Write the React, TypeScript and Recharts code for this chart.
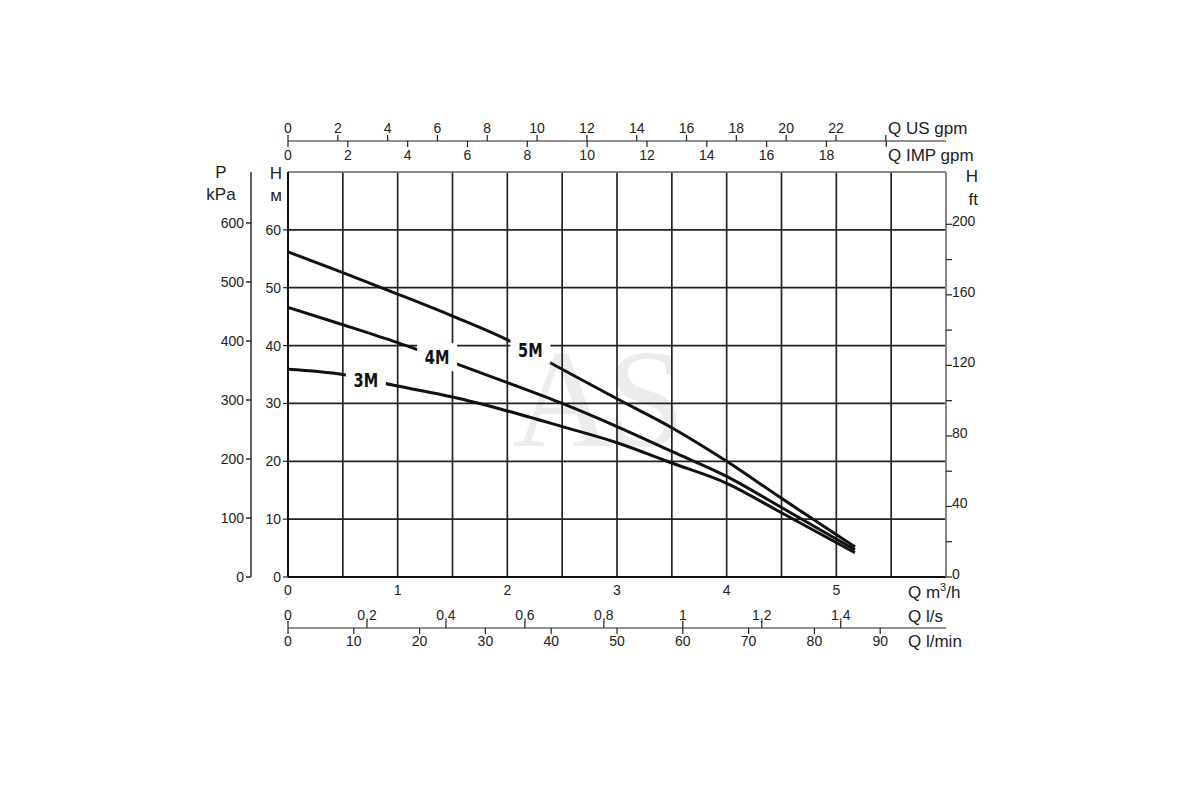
import { LineChart, Line, XAxis, YAxis, CartesianGrid, ReferenceDot } from 'recharts';

// flow in m3/h and head in m for each pump model
const flow = [0, 0.5, 1, 1.5, 2, 2.5, 3, 3.5, 4, 4.5, 5.17];
const head5M = [56.2, 52.6, 48.9, 45.1, 41.0, 35.9, 30.8, 25.8, 20.0, 13.6, 5.2];
const head4M = [46.6, 43.6, 40.5, 37.1, 33.6, 30.0, 26.0, 21.7, 17.4, 12.0, 4.7];
const head3M = [35.9, 35.0, 33.0, 31.1, 28.7, 26.0, 23.2, 19.7, 16.2, 11.1, 4.2];

const curveNames = ['5M', '4M', '3M'];
const curveLabelQ = [2.21, 1.36, 0.71];
const curveLabelH = [39.3, 38.0, 34.0];

const m3hTicks = [0, 0.5, 1, 1.5, 2, 2.5, 3, 3.5, 4, 4.5, 5, 5.5];
const mTicks = [0, 10, 20, 30, 40, 50, 60];
const kPaTicks = [0, 100, 200, 300, 400, 500, 600];
const ftTicks = [0, 20, 40, 60, 80, 100, 120, 140, 160, 180, 200];
const usGpmTicks = [0, 2, 4, 6, 8, 10, 12, 14, 16, 18, 20, 22, 24];
const impGpmTicks = [0, 2, 4, 6, 8, 10, 12, 14, 16, 18, 20];
const lpsTicks = [0, 0.2, 0.4, 0.6, 0.8, 1, 1.2, 1.4];
const lpmTicks = [0, 10, 20, 30, 40, 50, 60, 70, 80, 90];

// unit conversions from m3/h and m
const US_GPM = 4.40287;
const IMP_GPM = 3.66615;
const LPS = 1 / 3.6;
const LPM = 1000 / 60;
const KPA = 9.80665;
const FT = 3.28084;

const Q_MAX = 6;
const H_MAX = 70;

const data = flow.map((q, i) => ({ q, m5: head5M[i], m4: head4M[i], m3: head3M[i] }));

const font = '"Liberation Sans", Arial, sans-serif';
const ink = '#222';
const tickStyle = { fill: ink, fontSize: 14, fontFamily: font };
const comma = (v: number) => String(v).replace('.', ',');

// IMP gpm: ticks hang down from the shared top line, labels below it
const ImpTick = (props: any) => {
  const { x, y, payload } = props;
  const v = Math.round(payload.value * IMP_GPM);
  return (
    <g>
      <line x1={x} x2={x} y1={y - 31} y2={y - 25} stroke={ink} strokeWidth={1.2} />
      {v <= 18 && (
        <text x={x} y={y - 12} textAnchor="middle" fill={ink} fontSize={14} fontFamily={font}>
          {v}
        </text>
      )}
    </g>
  );
};

// l/s: ticks rise from the shared bottom line, labels above it
const LpsTick = (props: any) => {
  const { x, y, payload } = props;
  const v = Math.round(payload.value * LPS * 10) / 10;
  return (
    <g>
      <line x1={x} x2={x} y1={y + 23} y2={y + 16} stroke={ink} strokeWidth={1.2} />
      <text x={x} y={y + 15} textAnchor="middle" fill={ink} fontSize={14} fontFamily={font}>
        {comma(v)}
      </text>
    </g>
  );
};

const CurveTag = (props: any) => {
  const { cx, cy, name } = props;
  return (
    <g>
      <rect x={cx - 20} y={cy - 14} width={40} height={28} fill="#fff" />
      <text
        x={cx}
        y={cy + 7}
        textAnchor="middle"
        fill="#111"
        fontSize={19}
        fontWeight="bold"
        fontFamily='"DejaVu Sans Condensed", "Liberation Sans Narrow", sans-serif'
        transform={`translate(${cx} ${cy}) scale(0.85 1) translate(${-cx} ${-cy})`}
      >
        {name}
      </text>
    </g>
  );
};

const titleStyle = { fill: ink, fontSize: 17, fontFamily: font };

export default function App() {
  return (
    <div style={{ position: 'absolute', left: 0, top: 0, width: 1200, height: 800, background: '#fff' }}>
      <div
        style={{
          position: 'absolute',
          left: 512,
          top: 318,
          fontSize: 140,
          fontFamily: '"Liberation Serif", serif',
          color: '#ececec',
          letterSpacing: -6,
        }}
      >
        AS
      </div>
      <div style={{ position: 'absolute', left: 0, top: 0 }}>
        <LineChart width={1200} height={800} data={data} margin={{ top: 91, right: 204, bottom: 142, left: 191 }}>
          <CartesianGrid xAxisId="b1_m3h" yAxisId="l1_m" stroke={ink} strokeWidth={1.7} strokeOpacity={1} />
          <XAxis
            xAxisId="b1_m3h"
            dataKey="q"
            type="number"
            orientation="bottom"
            domain={[0, Q_MAX]}
            ticks={m3hTicks}
            interval={0}
            tickFormatter={(v: number) => (Number.isInteger(v) ? String(v) : '')}
            height={28}
            tickLine={false}
            axisLine={{ stroke: '#111', strokeWidth: 2.2 }}
            tick={tickStyle}
          />
          <XAxis
            xAxisId="b2_lps"
            dataKey="q"
            type="number"
            orientation="bottom"
            domain={[0, Q_MAX]}
            allowDataOverflow
            ticks={lpsTicks.map((v) => v / LPS)}
            interval={0}
            height={23}
            tickSize={0}
            tickMargin={0}
            tickLine={false}
            axisLine={false}
            tick={<LpsTick />}
          />
          <XAxis
            xAxisId="b3_lpm"
            dataKey="q"
            type="number"
            orientation="bottom"
            domain={[0, Q_MAX]}
            allowDataOverflow
            ticks={lpmTicks.map((v) => v / LPM)}
            interval={0}
            tickFormatter={(v: number) => String(Math.round(v * LPM))}
            height={30}
            tickSize={6}
            axisLine={{ stroke: ink, strokeWidth: 1.2 }}
            tickLine={{ stroke: ink, strokeWidth: 1.2 }}
            tick={tickStyle}
          />
          <XAxis
            xAxisId="t1_imp"
            dataKey="q"
            type="number"
            orientation="top"
            domain={[0, Q_MAX]}
            allowDataOverflow
            ticks={impGpmTicks.map((v) => v / IMP_GPM)}
            interval={0}
            height={31}
            tickSize={0}
            tickMargin={0}
            tickLine={false}
            axisLine={{ stroke: '#999', strokeWidth: 1.6 }}
            tick={<ImpTick />}
          />
          <XAxis
            xAxisId="t2_us"
            dataKey="q"
            type="number"
            orientation="top"
            domain={[0, Q_MAX]}
            allowDataOverflow
            ticks={usGpmTicks.map((v) => v / US_GPM)}
            interval={0}
            tickFormatter={(v: number) => {
              const g = Math.round(v * US_GPM);
              return g <= 22 ? String(g) : '';
            }}
            height={50}
            tickSize={6}
            axisLine={{ stroke: ink, strokeWidth: 1.2 }}
            tickLine={{ stroke: ink, strokeWidth: 1.2 }}
            tick={tickStyle}
          />
          <YAxis
            yAxisId="l1_m"
            type="number"
            orientation="left"
            domain={[0, H_MAX]}
            ticks={mTicks}
            interval={0}
            width={37}
            tickSize={5}
            tickMargin={2}
            axisLine={{ stroke: '#111', strokeWidth: 2 }}
            tickLine={{ stroke: ink, strokeWidth: 1.2 }}
            tick={tickStyle}
          />
          <YAxis
            yAxisId="l2_kpa"
            type="number"
            orientation="left"
            domain={[0, H_MAX * KPA]}
            allowDataOverflow
            ticks={kPaTicks}
            interval={0}
            width={60}
            tickSize={5}
            tickMargin={2}
            axisLine={{ stroke: ink, strokeWidth: 1.4 }}
            tickLine={{ stroke: ink, strokeWidth: 1.4 }}
            tick={tickStyle}
          />
          <YAxis
            yAxisId="r1_ft"
            type="number"
            orientation="right"
            domain={[0, H_MAX * FT]}
            allowDataOverflow
            ticks={ftTicks}
            interval={0}
            tickFormatter={(v: number) => (v % 40 === 0 ? String(v) : '')}
            width={50}
            tickSize={6}
            tickMargin={0}
            axisLine={{ stroke: '#999', strokeWidth: 1.6 }}
            tickLine={{ stroke: ink, strokeWidth: 1.2 }}
            tick={{ ...tickStyle, textAnchor: 'start', dy: -3 }}
          />
          <Line xAxisId="b1_m3h" yAxisId="l1_m" dataKey="m5" type="monotone" stroke="#111" strokeWidth={3} dot={false} isAnimationActive={false} />
          <Line xAxisId="b1_m3h" yAxisId="l1_m" dataKey="m4" type="monotone" stroke="#111" strokeWidth={3} dot={false} isAnimationActive={false} />
          <Line xAxisId="b1_m3h" yAxisId="l1_m" dataKey="m3" type="monotone" stroke="#111" strokeWidth={3} dot={false} isAnimationActive={false} />
          {curveNames.map((name, i) => (
            <ReferenceDot
              key={name}
              xAxisId="b1_m3h"
              yAxisId="l1_m"
              x={curveLabelQ[i]}
              y={curveLabelH[i]}
              r={0}
              shape={(p: any) => <CurveTag {...p} name={name} />}
            />
          ))}
          <text x={221} y={178} textAnchor="middle" {...titleStyle}>P</text>
          <text x={221} y={200} textAnchor="middle" {...titleStyle}>kPa</text>
          <text x={276} y={179} textAnchor="middle" {...titleStyle}>H</text>
          <text x={276} y={201} textAnchor="middle" {...titleStyle}>м</text>
          <text x={978} y={182} textAnchor="end" {...titleStyle}>H</text>
          <text x={978} y={205} textAnchor="end" {...titleStyle}>ft</text>
          <text x={888} y={134} {...titleStyle}>Q US gpm</text>
          <text x={888} y={161} {...titleStyle}>Q IMP gpm</text>
          <text x={908} y={598} {...titleStyle}>
            Q m<tspan dy={-7} fontSize={11}>3</tspan>
            <tspan dy={7}>/h</tspan>
          </text>
          <text x={908} y={622} {...titleStyle}>Q l/s</text>
          <text x={908} y={647} {...titleStyle}>Q l/min</text>
        </LineChart>
      </div>
    </div>
  );
}
